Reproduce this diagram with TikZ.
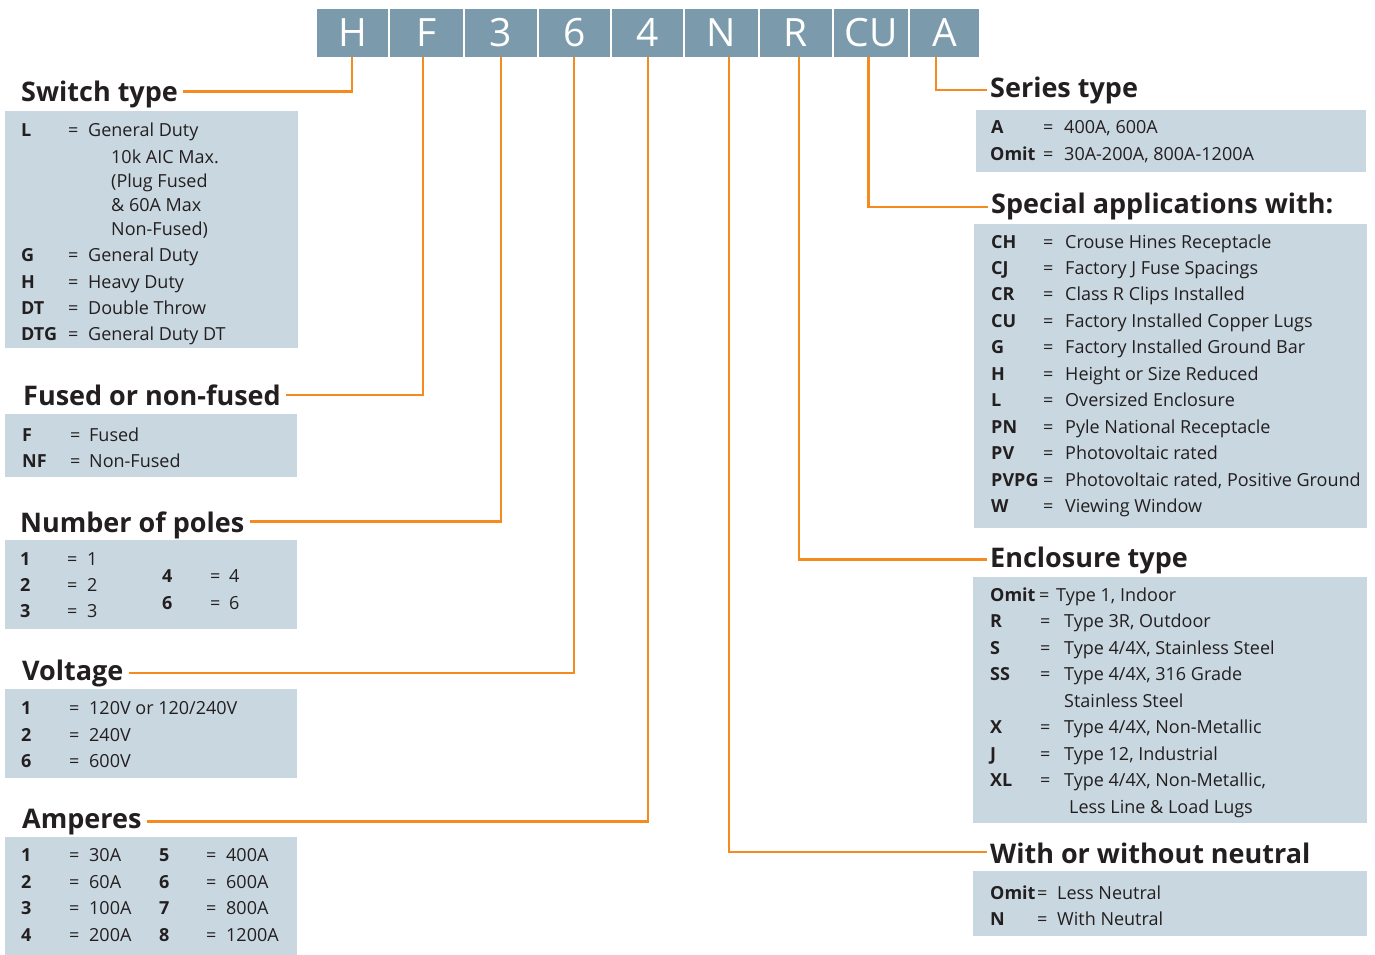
\documentclass[tikz,border=0pt]{standalone}
\usepackage{fontspec}
\setmainfont{Open Sans}
\definecolor{barc}{HTML}{7B9BAC}
\definecolor{panelc}{HTML}{C9D7E0}
\definecolor{orgc}{HTML}{F58A1F}
\definecolor{inkc}{HTML}{231F20}
\newcount\nc
\begin{document}
\begin{tikzpicture}[x=1pt,y=-1pt,
 code/.style={fill=barc, text=white, inner sep=0, minimum height=48, font=\fontsize{39}{39}\selectfont},
 panel/.style={fill=panelc, inner sep=0, anchor=north west},
 ttl/.style={anchor=base west, inner sep=0, text=inkc, font=\fontsize{27}{27}\selectfont\bfseries},
 txt/.style={anchor=base west, inner sep=0, text=inkc, font=\fontsize{18}{18}\selectfont},
 keyt/.style={txt, font=\fontsize{18}{18}\selectfont\bfseries},
 conn/.style={draw=orgc, line width=2.5}]
\newcommand\kv[6]{%
 \global\advance\nc by 1
 \node[keyt] (k\the\nc) at (#2,#1) {#3};
 \node[txt] (e\the\nc) at (#4,#1) {=};
 \node[txt] (v\the\nc) at (#5,#1) {#6};}
\newcommand\ct[3]{%
 \global\advance\nc by 1
 \node[txt] (v\the\nc) at (#1,#2) {#3};}
\useasboundingbox (0,0) rectangle (1375,955);
% code bar
\node[code, minimum width=71] (cH) at (352.5,33) {H};
\node[code, minimum width=73] (cF) at (426.5,33) {F};
\node[code, minimum width=71.5] (c3) at (500.75,33) {3};
\node[code, minimum width=71.5] (c6) at (574.25,33) {6};
\node[code, minimum width=71] (c4) at (647.5,33) {4};
\node[code, minimum width=73] (cN) at (721.5,33) {N};
\node[code, minimum width=72] (cR) at (796,33) {R};
\node[code, minimum width=74] (cCU) at (871,33) {CU};
\node[code, minimum width=69] (cA) at (944.5,33) {A};
% panels
\node[panel, minimum width=293, minimum height=237] (bSwitch) at (5,111) {};
\node[panel, minimum width=292, minimum height=63] (bFused) at (5,414) {};
\node[panel, minimum width=292, minimum height=89] (bPoles) at (5,540) {};
\node[panel, minimum width=292, minimum height=89] (bVolt) at (5,689) {};
\node[panel, minimum width=292, minimum height=118] (bAmp) at (5,837) {};
\node[panel, minimum width=390, minimum height=62] (bSeries) at (976,110) {};
\node[panel, minimum width=393, minimum height=304] (bSpecial) at (974,224) {};
\node[panel, minimum width=394, minimum height=246] (bEncl) at (973,577) {};
\node[panel, minimum width=394, minimum height=65] (bNeut) at (973,871) {};
% titles
\node[ttl] (tSwitch) at (21,102) {Switch type};
\node[ttl] (tFused) at (23,405) {Fused or non-fused};
\node[ttl] (tPoles) at (20,532) {Number of poles};
\node[ttl] (tVolt) at (22,680) {Voltage};
\node[ttl] (tAmp) at (22,828) {Amperes};
\node[ttl] (tSeries) at (990,98) {Series type};
\node[ttl] (tSpecial) at (991,213) {Special applications with:};
\node[ttl] (tEncl) at (990,567) {Enclosure type};
\node[ttl] (tNeut) at (990,863) {With or without neutral};
% switch type
\kv{136}{21}{L}{68}{88}{General Duty}
\ct{111}{163}{10k AIC Max.}
\ct{111}{187}{(Plug Fused}
\ct{111}{211}{\& 60A Max}
\ct{111}{235}{Non-Fused)}
\kv{261}{21}{G}{68}{88}{General Duty}
\kv{288}{21}{H}{68}{88}{Heavy Duty}
\kv{314}{21}{DT}{68}{88}{Double Throw}
\kv{340}{21}{DTG}{68}{88}{General Duty DT}
% fused
\kv{441}{22}{F}{70}{89}{Fused}
\kv{467}{22}{NF}{70}{89}{Non-Fused}
% poles
\kv{565}{20}{1}{67}{87}{1}
\kv{591}{20}{2}{67}{87}{2}
\kv{617}{20}{3}{67}{87}{3}
\kv{582}{162}{4}{210}{229}{4}
\kv{609}{162}{6}{210}{229}{6}
% voltage
\kv{714}{21}{1}{69}{89}{120V or 120/240V}
\kv{741}{21}{2}{69}{89}{240V}
\kv{767}{21}{6}{69}{89}{600V}
% amperes
\kv{861}{21}{1}{69}{89}{30A}
\kv{888}{21}{2}{69}{89}{60A}
\kv{914}{21}{3}{69}{89}{100A}
\kv{941}{21}{4}{69}{89}{200A}
\kv{861}{159}{5}{206}{226}{400A}
\kv{888}{159}{6}{206}{226}{600A}
\kv{914}{159}{7}{206}{226}{800A}
\kv{941}{159}{8}{206}{226}{1200A}
% series
\kv{133}{991}{A}{1043}{1064}{400A, 600A}
\kv{160}{990}{Omit}{1043}{1064}{30A-200A, 800A-1200A}
% special
\kv{248}{991}{CH}{1043}{1065}{Crouse Hines Receptacle}
\kv{274}{991}{CJ}{1043}{1065}{Factory J Fuse Spacings}
\kv{300}{991}{CR}{1043}{1065}{Class R Clips Installed}
\kv{327}{991}{CU}{1043}{1065}{Factory Installed Copper Lugs}
\kv{353}{991}{G}{1043}{1065}{Factory Installed Ground Bar}
\kv{380}{991}{H}{1043}{1065}{Height or Size Reduced}
\kv{406}{991}{L}{1043}{1065}{Oversized Enclosure}
\kv{433}{991}{PN}{1043}{1065}{Pyle National Receptacle}
\kv{459}{991}{PV}{1043}{1065}{Photovoltaic rated}
\kv{486}{991}{PVPG}{1043}{1065}{Photovoltaic rated, Positive Ground}
\kv{512}{991}{W}{1043}{1065}{Viewing Window}
% enclosure
\kv{601}{990}{Omit}{1039}{1056}{Type 1, Indoor}
\kv{627}{990}{R}{1040}{1064}{Type 3R, Outdoor}
\kv{654}{990}{S}{1040}{1064}{Type 4/4X, Stainless Steel}
\kv{680}{990}{SS}{1040}{1064}{Type 4/4X, 316 Grade}
\ct{1064}{707}{Stainless Steel}
\kv{733}{990}{X}{1040}{1064}{Type 4/4X, Non-Metallic}
\kv{760}{990}{J}{1040}{1064}{Type 12, Industrial}
\kv{786}{990}{XL}{1040}{1064}{Type 4/4X, Non-Metallic,}
\ct{1069}{813}{Less Line \& Load Lugs}
% neutral
\kv{899}{990}{Omit}{1037}{1057}{Less Neutral}
\kv{925}{990}{N}{1037}{1057}{With Neutral}
% connector points
\coordinate (pH) at (352,57);   \coordinate (eH) at (352,91.5);
\coordinate (pF) at (423,57);   \coordinate (eF) at (423,395);
\coordinate (p3) at (501,57);   \coordinate (e3) at (501,521.5);
\coordinate (p6) at (574,57);   \coordinate (e6) at (574,673);
\coordinate (p4) at (648,57);   \coordinate (e4) at (648,821.5);
\coordinate (pN) at (729,57);   \coordinate (eN) at (729,852);
\coordinate (pR) at (799,57);   \coordinate (eR) at (799,559.5);
\coordinate (pCU) at (868.5,57); \coordinate (eCU) at (868.5,207);
\coordinate (pA) at (936,57);   \coordinate (eA) at (936,90);
\draw[conn] (pH) -- (eH) -- ([xshift=5]eH -| tSwitch.east);
\draw[conn] (pF) -- (eF) -- ([xshift=5]eF -| tFused.east);
\draw[conn] (p3) -- (e3) -- ([xshift=5]e3 -| tPoles.east);
\draw[conn] (p6) -- (e6) -- ([xshift=5]e6 -| tVolt.east);
\draw[conn] (p4) -- (e4) -- ([xshift=5]e4 -| tAmp.east);
\draw[conn] (pN) -- (eN) -- ([xshift=-3]eN -| tNeut.west);
\draw[conn] (pR) -- (eR) -- ([xshift=-3]eR -| tEncl.west);
\draw[conn] (pCU) -- (eCU) -- ([xshift=-3]eCU -| tSpecial.west);
\draw[conn] (pA) -- (eA) -- ([xshift=-3]eA -| tSeries.west);
\end{tikzpicture}
\end{document}
